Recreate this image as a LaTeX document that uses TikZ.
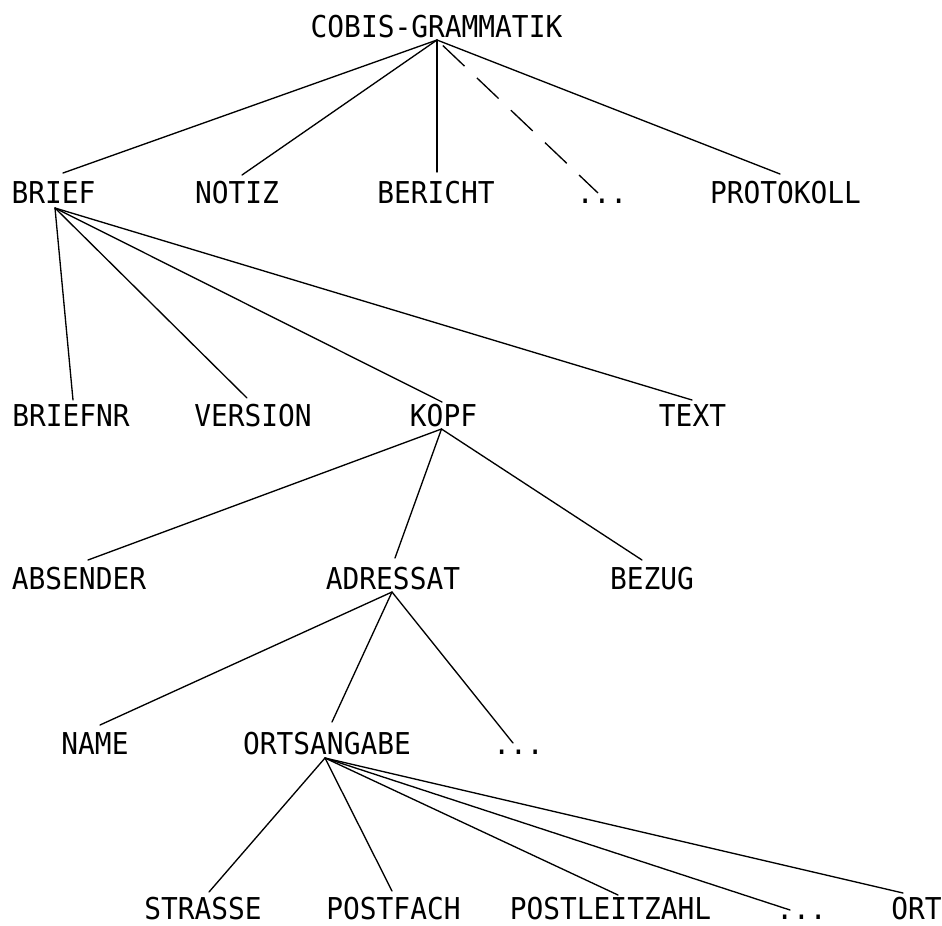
\documentclass[tikz,border=0pt]{standalone}
\usepackage{fontspec}
\newfontfamily\plotfont{DejaVu Sans Mono}
\newcommand\plab[1]{\scalebox{1}[1.08]{#1}}
\tikzset{
  lbl/.style={inner sep=0pt, outer sep=0pt, anchor=base,
    font=\plotfont\fontsize{20.9}{24}\selectfont},
  edge/.style={line width=1pt, line cap=round},
  dashedge/.style={line width=1pt, dash pattern=on 22.5pt off 12.75pt, dash phase=29.25pt}
}
\begin{document}
\begin{tikzpicture}[x=0.75pt, y=-0.75pt]
\useasboundingbox (0,0) rectangle (942,925);
% level 0
\node[lbl] (cobis) at (436.5,37) {\plab{COBIS-GRAMMATIK}};
% level 1
\node[lbl] (brief) at (53.5,203) {\plab{BRIEF}};
\node[lbl] (notiz) at (237,203) {\plab{NOTIZ}};
\node[lbl] (bericht) at (436,203) {\plab{BERICHT}};
\node[lbl] (dotsa) at (602,203) {\plab{...}};
\node[lbl] (protokoll) at (785.5,203) {\plab{PROTOKOLL}};
% level 2
\node[lbl] (briefnr) at (71,426) {\plab{BRIEFNR}};
\node[lbl] (version) at (253,426) {\plab{VERSION}};
\node[lbl] (kopf) at (443.5,426) {\plab{KOPF}};
\node[lbl] (txt) at (692.5,426) {\plab{TEXT}};
% level 3
\node[lbl] (absender) at (79,589) {\plab{ABSENDER}};
\node[lbl] (adressat) at (393,589) {\plab{ADRESSAT}};
\node[lbl] (bezug) at (652,589) {\plab{BEZUG}};
% level 4
\node[lbl] (name) at (95,754) {\plab{NAME}};
\node[lbl] (ortsangabe) at (327,754) {\plab{ORTSANGABE}};
\node[lbl] (dotsb) at (518.5,754) {\plab{...}};
% level 5
\node[lbl] (strasse) at (203,919) {\plab{STRASSE}};
\node[lbl] (postfach) at (393.5,919) {\plab{POSTFACH}};
\node[lbl] (plz) at (610.5,919) {\plab{POSTLEITZAHL}};
\node[lbl] (dotsc) at (801.5,919) {\plab{...}};
\node[lbl] (ort) at (916.5,919) {\plab{ORT}};

% connectors
\coordinate (cobisO) at ([shift={(0.5,3)}]cobis.base);
\draw[edge] (cobisO) -- ([shift={(9.5,-30)}]brief.base);
\draw[edge] (cobisO) -- ([shift={(5,-28)}]notiz.base);
\draw[edge] (cobisO) -- ([shift={(1,-31)}]bericht.base);
\draw[dashedge] (cobisO) -- ([shift={(-4,-10)}]dotsa.base);
\draw[edge] (cobisO) -- ([shift={(-5.5,-29)}]protokoll.base);

\coordinate (briefO) at ([shift={(1.5,5)}]brief.base);
\draw[edge] (briefO) -- ([shift={(2,-26)}]briefnr.base);
\draw[edge] (briefO) -- ([shift={(-6,-28)}]version.base);
\draw[edge] (briefO) -- ([shift={(-1.5,-24)}]kopf.base);
\draw[edge] (briefO) -- ([shift={(-0.5,-26)}]txt.base);

\coordinate (kopfO) at ([shift={(-2,3)}]kopf.base);
\draw[edge] (kopfO) -- ([shift={(9,-29)}]absender.base);
\draw[edge] (kopfO) -- ([shift={(2,-31)}]adressat.base);
\draw[edge] (kopfO) -- ([shift={(-10,-29)}]bezug.base);

\coordinate (adressatO) at ([shift={(-1,3)}]adressat.base);
\draw[edge] (adressatO) -- ([shift={(5,-29)}]name.base);
\draw[edge] (adressatO) -- ([shift={(5,-32)}]ortsangabe.base);
\draw[edge] (adressatO) -- ([shift={(-5.5,-11)}]dotsb.base);

\coordinate (ortsO) at ([shift={(-2,4)}]ortsangabe.base);
\draw[edge] (ortsO) -- ([shift={(6,-27)}]strasse.base);
\draw[edge] (ortsO) -- ([shift={(-1.5,-28)}]postfach.base);
\draw[edge] (ortsO) -- ([shift={(7.5,-24)}]plz.base);
\draw[edge] (ortsO) -- ([shift={(-11.5,-9)}]dotsc.base);
\draw[edge] (ortsO) -- ([shift={(-13.5,-26)}]ort.base);
\end{tikzpicture}
\end{document}
